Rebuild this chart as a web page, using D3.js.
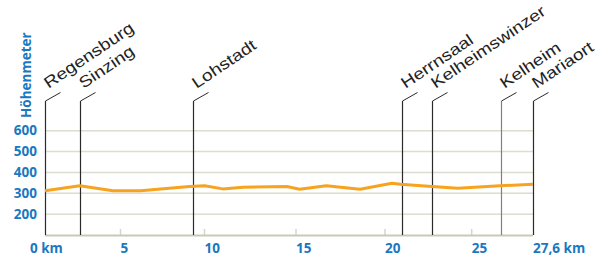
<!DOCTYPE html>
<html>
<head>
<meta charset="utf-8">
<script src="https://cdn.jsdelivr.net/npm/d3@7"></script>
<style>
  body { margin: 0; background: #fff; }
  svg { display: block; }
</style>
</head>
<body>
<script>
// elevation profile Regensburg - Mariaort
const profileKm = [0, 2.3, 4.5, 6.2, 9.1, 10.0, 11.0, 12.1, 14.5, 15.2, 16.7, 18.6, 20.4, 20.9, 22.7, 24.2, 26.2, 27.6];
const profileElev = [312, 336, 312, 312, 332, 336, 321, 329, 332, 319, 336, 319, 348, 343, 332, 324, 336, 343];

const placeNames = ["Regensburg", "Sinzing", "Lohstadt", "Herrnsaal", "Kelheimswinzer", "Kelheim", "Mariaort"];
const placeKm = [0, 2.3, 9.3, 21.0, 22.7, 26.25, 27.6];

const kmTicks = [0, 5, 10, 15, 20, 25, 27.6];
const kmTickLabels = ["0 km", "5", "10", "15", "20", "25", "27,6 km"];
const elevTicks = [200, 300, 400, 500, 600];

const width = 613, height = 257;
const blue = "#1a78c0";

const svg = d3.select("body").append("svg")
    .attr("width", width)
    .attr("height", height);

// distance axis of the source is not evenly spaced, so piecewise scale
const x = d3.scaleLinear()
    .domain(kmTicks)
    .range([45, 120.5, 204.5, 296, 385, 471.7, 533]);

const y = d3.scaleLinear()
    .domain([100, 700])
    .range([235, 109.8]);

// grid
svg.selectAll(".grid")
    .data(elevTicks)
    .enter().append("line")
    .attr("x1", x(0)).attr("x2", x(27.6))
    .attr("y1", d => y(d)).attr("y2", d => y(d))
    .attr("stroke", "#dcdccf")
    .attr("stroke-width", 1.5);

// small ticks on the baseline
svg.selectAll(".tick")
    .data(kmTicks.slice(1, -1))
    .enter().append("line")
    .attr("x1", d => x(d)).attr("x2", d => x(d))
    .attr("y1", y(100) - 6).attr("y2", y(100))
    .attr("stroke", "#d6d6c8")
    .attr("stroke-width", 1.5);

// baseline
svg.append("line")
    .attr("x1", x(0)).attr("x2", x(27.6))
    .attr("y1", y(100) + 0.5).attr("y2", y(100) + 0.5)
    .attr("stroke", "#c9c9b8")
    .attr("stroke-width", 2);

// place markers
const places = placeNames.map((n, i) => ({ name: n, km: placeKm[i] }));
const pg = svg.selectAll(".place")
    .data(places)
    .enter().append("g")
    .attr("transform", d => `translate(${Math.round(x(d.km)) + 0.5},0)`);

pg.append("line")
    .attr("x1", 0).attr("x2", 0)
    .attr("y1", 101).attr("y2", y(100))
    .attr("stroke", d => d.name === "Kelheim" ? "#808080" : "#2a2a2a")
    .attr("stroke-width", 1.2);

pg.append("line")
    .attr("x1", 0).attr("y1", 101)
    .attr("x2", 15).attr("y2", 92.5)
    .attr("stroke", "#2a2a2a")
    .attr("stroke-width", 1);

pg.append("text")
    .attr("transform", "translate(3,89) rotate(-34) scale(1.2,1)")
    .style("font-family", "'Liberation Sans', Arial, sans-serif")
    .style("font-size", "16px")
    .style("fill", "#222")
    .text(d => d.name);

// elevation line
const line = d3.line()
    .x((d, i) => x(profileKm[i]))
    .y(d => y(d))
    .curve(d3.curveLinear);

svg.append("path")
    .datum(profileElev)
    .attr("d", line)
    .attr("fill", "none")
    .attr("stroke", "#f8a31f")
    .attr("stroke-width", 3)
    .attr("stroke-linejoin", "round");

// y labels
svg.selectAll(".ylab")
    .data(elevTicks)
    .enter().append("text")
    .attr("x", 37)
    .attr("y", d => y(d) + 4.7)
    .attr("text-anchor", "end")
    .style("font-family", "'Open Sans', sans-serif")
    .style("font-weight", "bold")
    .style("font-size", "13.5px")
    .style("fill", blue)
    .text(d => d);

svg.append("text")
    .attr("transform", "translate(31,118) rotate(-90)")
    .style("font-family", "'Open Sans', sans-serif")
    .style("font-weight", "bold")
    .style("font-size", "13.5px")
    .style("fill", blue)
    .text("Höhenmeter");

// x labels
svg.selectAll(".xlab")
    .data(kmTicks)
    .enter().append("text")
    .attr("x", (d, i) => i === 0 ? 30 : x(d))
    .attr("y", 252.5)
    .style("font-family", "'Open Sans', sans-serif")
    .style("font-weight", "bold")
    .style("font-size", "13.5px")
    .style("fill", blue)
    .text((d, i) => kmTickLabels[i]);
</script>
</body>
</html>
